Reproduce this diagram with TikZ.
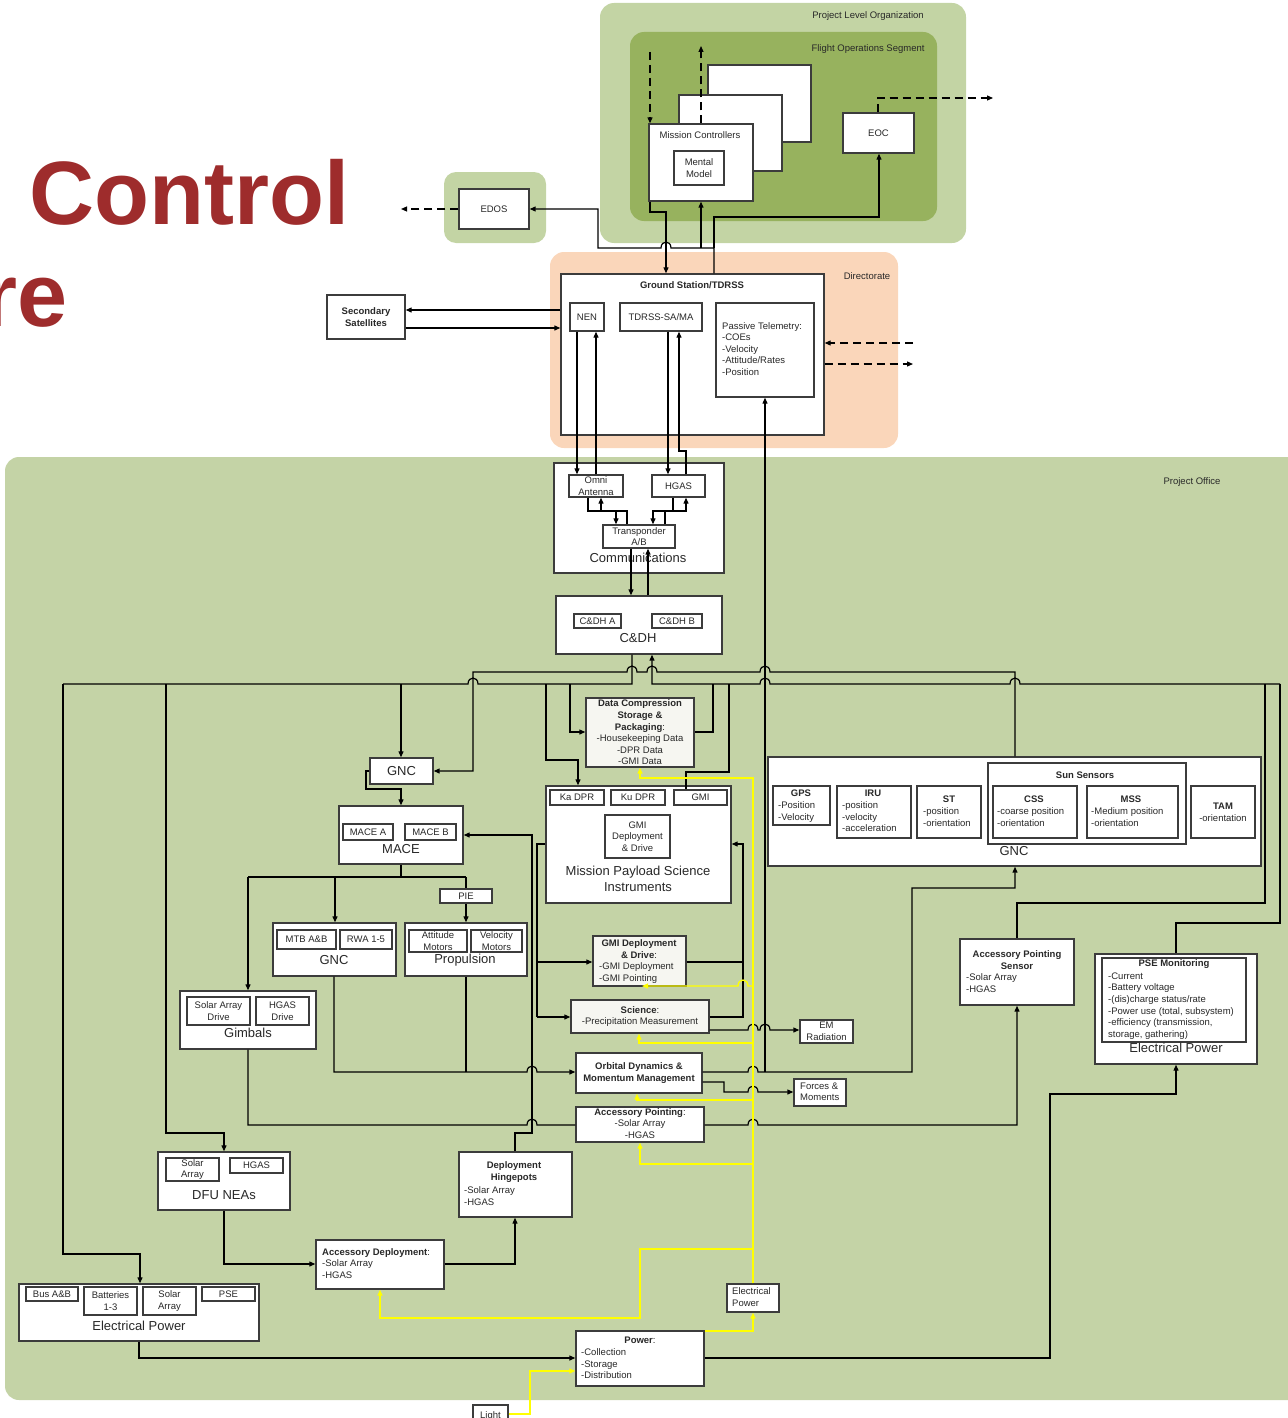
\documentclass[tikz,border=0pt]{standalone}
\usepackage{fontspec}
\setmainfont{Liberation Sans}
\usetikzlibrary{arrows.meta}
\definecolor{plo}{RGB}{195,212,164}
\definecolor{fos}{RGB}{151,178,94}
\definecolor{dirc}{RGB}{250,214,186}
\definecolor{poc}{RGB}{196,211,166}
\definecolor{ctl}{RGB}{158,44,44}
\definecolor{lgf}{RGB}{246,246,241}
\definecolor{bord}{RGB}{60,60,60}
\definecolor{txt}{RGB}{40,40,40}
\definecolor{yel}{RGB}{255,255,0}
\newcommand\myst{\fontsize{9.5}{11.6}\selectfont}
\newcommand\mybt{\fontsize{13}{16}\selectfont}
\tikzset{
  bx/.style={draw=bord, line width=1.4pt, fill=white, inner sep=0pt},
  gbx/.style={bx, fill=lgf},
  t/.style={inner sep=0pt, font=\myst, text=txt},
  tc/.style={t, align=center},
  tl/.style={t, align=left, anchor=north west},
  big/.style={inner sep=0pt, font=\mybt, text=txt, align=center},
  ln/.style={line width=1.2pt, draw=black},
  ar/.style={ln, -{Triangle[length=6pt,width=5pt]}},
  dsh/.style={ln, dash pattern=on 8pt off 5pt, -{Triangle[length=6pt,width=5pt]}},
  yl/.style={line width=1.3pt, draw=yel},
  yar/.style={yl, -{Triangle[length=6pt,width=5pt]}},
  hopr/.style args={#1/#2}{insert path={-- ({#1-5},#2) .. controls ({#1-5},{#2-8}) and ({#1+5},{#2-8}) .. ({#1+5},#2)}},
  hopl/.style args={#1/#2}{insert path={-- ({#1+5},#2) .. controls ({#1+5},{#2-8}) and ({#1-5},{#2-8}) .. ({#1-5},#2)}},
}
\begin{document}
\begin{tikzpicture}[x=1pt,y=-1pt]
\useasboundingbox (0,0) rectangle (1287,1418);
% regions
\fill[plo, rounded corners=14pt] (600,3) rectangle (966,243);
\fill[fos, rounded corners=14pt] (630,32) rectangle (937,221);
\fill[plo, rounded corners=12pt] (444,172) rectangle (546,243);
\fill[dirc, rounded corners=14pt] (550,252) rectangle (898,448);
\fill[poc, rounded corners=14pt] (5,457) rectangle (1310,1400);
% title text
\node[anchor=base west, inner sep=0pt, font=\fontsize{90}{100}\selectfont\bfseries, text=ctl] (ctrl) at (29,224) {Control};
\node[anchor=base east, inner sep=0pt, font=\fontsize{90}{100}\selectfont\bfseries, text=ctl] (retxt) at (68,326) {re};
% region labels
\node[t] (plol) at (868,16) {Project Level Organization};
\node[t] (fosl) at (868,49) {Flight Operations Segment};
\node[t] (dirl) at (867,276) {Directorate};
\node[t] (pol) at (1192,482) {Project Office};
% top boxes
\node[bx, minimum width=103pt, minimum height=77pt] (bk2) at (759.5,103.5) {};
\node[bx, minimum width=103pt, minimum height=76pt] (bk1) at (730.5,133) {};
\node[bx, minimum width=104pt, minimum height=77pt] (mc) at (701,162.5) {};
\node[t] (mcl) at (700,135) {Mission Controllers};
\node[bx, tc, minimum width=50pt, minimum height=34pt] (mm) at (699,168) {Mental\\Model};
\node[bx, t, minimum width=71pt, minimum height=40pt] (eoc) at (878.5,133) {EOC};
\node[bx, t, minimum width=70pt, minimum height=40pt] (edos) at (494,209) {EDOS};
\node[bx, minimum width=263pt, minimum height=161pt] (gs) at (692.5,354.5) {};
\node[t, font=\myst\bfseries] (gsl) at (692,285) {Ground Station/TDRSS};
\node[bx, t, minimum width=34pt, minimum height=28pt] (nen) at (587,317) {NEN};
\node[bx, t, minimum width=82pt, minimum height=28pt] (tdrss) at (661,317) {TDRSS-SA/MA};
\node[bx, minimum width=98pt, minimum height=94pt] (pt) at (765,350) {};
\node[tl] (ptl) at (722,322) {Passive Telemetry:\\-COEs\\-Velocity\\-Attitude/Rates\\-Position};
\node[bx, tc, font=\myst\bfseries, minimum width=78pt, minimum height=44pt] (sec) at (366,317) {Secondary\\Satellites};
% communications
\node[bx, minimum width=170pt, minimum height=110pt] (comm) at (639,518) {};
\node[bx, tc, minimum width=54pt, minimum height=22pt] (omni) at (596,486) {Omni\\Antenna};
\node[bx, t, minimum width=53pt, minimum height=22pt] (hgas) at (678.5,486) {HGAS};
\node[bx, tc, minimum width=72pt, minimum height=23pt] (trans) at (639,536.5) {Transponder\\A/B};
\node[big] (comml) at (638,558) {Communications};
% C&DH
\node[bx, minimum width=166pt, minimum height=58pt] (cdh) at (639,625) {};
\node[bx, t, minimum width=47pt, minimum height=14pt] (cdha) at (597.5,621) {C\&DH A};
\node[bx, t, minimum width=50pt, minimum height=14pt] (cdhb) at (677,621) {C\&DH B};
\node[big] (cdhl) at (638,638) {C\&DH};
% data compression
\node[gbx, tc, minimum width=108pt, minimum height=69pt] (dc) at (640,732.5) {\textbf{Data Compression}\\\textbf{Storage \&}\\\textbf{Packaging}:\\-Housekeeping Data\\-DPR Data\\-GMI Data};
% MPSI
\node[bx, minimum width=185pt, minimum height=117pt] (mpsi) at (638.5,844.5) {};
\node[bx, t, minimum width=54pt, minimum height=15pt] (ka) at (577,797.5) {Ka DPR};
\node[bx, t, minimum width=54pt, minimum height=15pt] (ku) at (638,797.5) {Ku DPR};
\node[bx, t, minimum width=53pt, minimum height=15pt] (gmi) at (700.5,797.5) {GMI};
\node[bx, tc, minimum width=65pt, minimum height=43pt] (gmidd) at (637.5,836.5) {GMI\\Deployment\\\& Drive};
\node[big] (mpsil) at (638,879) {Mission Payload Science\\Instruments};
% GNC big
\node[bx, minimum width=493pt, minimum height=109pt] (gncb) at (1014.5,811.5) {};
\node[bx, minimum width=198pt, minimum height=81pt] (sun) at (1087,803.5) {};
\node[t, font=\myst\bfseries] (sunl) at (1085,775) {Sun Sensors};
\node[bx, minimum width=57pt, minimum height=39pt] (gps) at (801.5,805.5) {};
\node[t, font=\myst\bfseries] (gpst) at (801,793) {GPS};
\node[tl] (gpsl) at (778,801.5) {-Position\\-Velocity};
\node[bx, minimum width=74pt, minimum height=52pt] (iru) at (874,812) {};
\node[t, font=\myst\bfseries] (irut) at (873,793) {IRU};
\node[tl] (irul) at (842,801.5) {-position\\-velocity\\-acceleration};
\node[bx, minimum width=64pt, minimum height=52pt] (st) at (949,812) {};
\node[t, font=\myst\bfseries] (stt) at (949,799) {ST};
\node[tl] (stl) at (923,807.5) {-position\\-orientation};
\node[bx, minimum width=84pt, minimum height=52pt] (css) at (1035,812) {};
\node[t, font=\myst\bfseries] (csst) at (1034,799) {CSS};
\node[tl] (cssl) at (997,807.5) {-coarse position\\-orientation};
\node[bx, minimum width=91pt, minimum height=52pt] (mss) at (1132.5,812) {};
\node[t, font=\myst\bfseries] (msst) at (1131,799) {MSS};
\node[tl] (mssl) at (1091,807.5) {-Medium position\\-orientation};
\node[bx, tc, minimum width=64pt, minimum height=52pt] (tam) at (1223,812) {\textbf{TAM}\\-orientation};
\node[big] (gncbl) at (1014,851) {GNC};
% left middle
\node[bx, big, minimum width=63pt, minimum height=26pt] (gncs) at (401.5,771) {GNC};
\node[bx, minimum width=124pt, minimum height=58pt] (mace) at (401,835) {};
\node[bx, t, minimum width=50pt, minimum height=16pt] (macea) at (368,832) {MACE A};
\node[bx, t, minimum width=51pt, minimum height=16pt] (maceb) at (430.5,832) {MACE B};
\node[big] (macel) at (401,849) {MACE};
\node[bx, t, minimum width=52pt, minimum height=14pt] (pie) at (466,896) {PIE};
\node[bx, minimum width=123pt, minimum height=53pt] (gnc2) at (334.5,949.5) {};
\node[bx, t, minimum width=59pt, minimum height=19pt] (mtb) at (306.5,939.5) {MTB A\&B};
\node[bx, t, minimum width=52pt, minimum height=19pt] (rwa) at (366,939.5) {RWA 1-5};
\node[big] (gnc2l) at (334,960) {GNC};
\node[bx, minimum width=122pt, minimum height=53pt] (prop) at (466,949.5) {};
\node[bx, tc, minimum width=58pt, minimum height=22pt] (att) at (438,941) {Attitude\\Motors};
\node[bx, tc, minimum width=51pt, minimum height=22pt] (vel) at (496.5,941) {Velocity\\Motors};
\node[big] (propl) at (465,960) {Propulsion};
\node[bx, minimum width=136pt, minimum height=58pt] (gimb) at (248,1020) {};
\node[bx, tc, minimum width=63pt, minimum height=28pt] (sad) at (218.5,1011) {Solar Array\\Drive};
\node[bx, tc, minimum width=53pt, minimum height=28pt] (hgd) at (282.5,1011) {HGAS\\Drive};
\node[big] (gimbl) at (248,1033) {Gimbals};
% middle column
\node[gbx, minimum width=93pt, minimum height=50pt] (gmid) at (639.5,961) {};
\node[tc] (gmidt) at (639,949) {\textbf{GMI Deployment}\\\textbf{\& Drive}:};
\node[tl] (gmidl) at (599,962.5) {-GMI Deployment\\-GMI Pointing};
\node[gbx, tc, minimum width=138pt, minimum height=33pt] (sci) at (640,1016.5) {\textbf{Science}:\\-Precipitation Measurement};
\node[bx, tc, minimum width=53pt, minimum height=23pt] (em) at (826.5,1031.5) {EM\\Radiation};
\node[bx, tc, font=\myst\bfseries, minimum width=126pt, minimum height=40pt] (od) at (639,1073) {Orbital Dynamics \&\\Momentum Management};
\node[bx, minimum width=52pt, minimum height=27pt] (fm) at (820,1092.5) {};
\node[tl] (fml) at (800,1082.5) {Forces \&\\Moments};
\node[bx, minimum width=128pt, minimum height=35pt] (ap) at (640,1124.5) {};
\node[tc] (apl) at (640,1123.5) {\textbf{Accessory Pointing}:\\-Solar Array\\-HGAS};
% right side
\node[bx, minimum width=114pt, minimum height=66pt] (aps) at (1017,972) {};
\node[tc, font=\myst\bfseries] (apst) at (1017,960) {Accessory Pointing\\Sensor};
\node[tl] (apsl) at (966,973.5) {-Solar Array\\-HGAS};
\node[bx, minimum width=162pt, minimum height=110pt] (pse) at (1176,1009) {};
\node[bx, minimum width=144pt, minimum height=84pt] (psem) at (1174,1000) {};
\node[t, font=\myst\bfseries] (psemt) at (1174,964) {PSE Monitoring};
\node[tl] (pseml) at (1108,972.5) {-Current\\-Battery voltage\\-(dis)charge status/rate\\-Power use (total, subsystem)\\-efficiency (transmission,\\storage, gathering)};
\node[big] (psel) at (1176,1048) {Electrical Power};
% bottom
\node[bx, minimum width=132pt, minimum height=58pt] (dfu) at (224,1181) {};
\node[bx, tc, minimum width=53pt, minimum height=23pt] (dfusa) at (192.5,1169.5) {Solar\\Array};
\node[bx, t, minimum width=53pt, minimum height=15pt] (dfuhg) at (256.5,1165.5) {HGAS};
\node[big] (dful) at (224,1195) {DFU NEAs};
\node[bx, minimum width=113pt, minimum height=65pt] (dh) at (515.5,1184.5) {};
\node[tc, font=\myst\bfseries] (dht) at (514,1172) {Deployment\\Hingepots};
\node[tl] (dhl) at (464,1186.5) {-Solar Array\\-HGAS};
\node[bx, minimum width=128pt, minimum height=49pt] (ad) at (380,1264.5) {};
\node[tl] (adl) at (322,1248) {\textbf{Accessory Deployment}:\\-Solar Array\\-HGAS};
\node[bx, minimum width=240pt, minimum height=57pt] (ep) at (139,1312.5) {};
\node[bx, t, minimum width=52pt, minimum height=14pt] (bus) at (52,1294) {Bus A\&B};
\node[bx, tc, minimum width=53pt, minimum height=28pt] (bat) at (110.5,1301) {Batteries\\1-3};
\node[bx, tc, minimum width=53pt, minimum height=28pt] (epsa) at (169.5,1301) {Solar\\Array};
\node[bx, t, minimum width=53pt, minimum height=14pt] (psebx) at (228.5,1294) {PSE};
\node[big] (epl) at (139,1326) {Electrical Power};
\node[bx, minimum width=52pt, minimum height=28pt] (epw) at (753,1298) {};
\node[tl] (epwl) at (732,1287.5) {Electrical\\Power};
\node[bx, minimum width=128pt, minimum height=55pt] (pow) at (640,1358.5) {};
\node[t] (powt) at (640,1340) {\textbf{Power}:};
\node[tl] (powl) at (581,1348.5) {-Collection\\-Storage\\-Distribution};
\node[bx, t, minimum width=35pt, minimum height=22pt] (light) at (490.5,1416) {Light};
% free ends
\coordinate (d1) at (650,52);
\coordinate (d2) at (701,46);
\coordinate (d3) at (993,98);
\coordinate (d4) at (401,209);
\coordinate (d5) at (913,343);
\coordinate (d6) at (913,364);
% dashed connectors
\draw[dsh] (d1) -- (650,0 |- mc.north);
\draw[dsh] (701,0 |- mc.north) -- (d2);
\draw[dsh] (878,0 |- eoc.north) -- (878,98) -- (d3);
\draw[dsh] (edos.west) -- (d4);
\draw[dsh] (d5) -- (gs.east |- 0,343);
\draw[dsh] (gs.east |- 0,364) -- (d6);
% top connectors
\draw[ar] (650,0 |- mc.south) -- (650,212) -- (666,212) -- (666,0 |- gs.north);
\draw[ar] (714,0 |- gs.north) -- (714,248) [hopl=666/248] -- (598,248) -- (598,209) -- (edos.east);
\draw[ar] (701,248) -- (701,0 |- mc.south);
\draw[ar] (714,248) -- (714,217) -- (879,217) -- (879,0 |- eoc.south);
\draw[ar] (gs.west |- 0,310) -- (sec.east |- 0,310);
\draw[ar] (sec.east |- 0,328) -- (gs.west |- 0,328);
\draw[ar] (577,0 |- nen.south) -- (577,0 |- omni.north);
\draw[ar] (596,0 |- omni.north) -- (596,0 |- nen.south);
\draw[ar] (668,0 |- tdrss.south) -- (668,0 |- hgas.north);
\draw[ar] (686,0 |- hgas.north) -- (686,451) -- (679,451) -- (679,0 |- tdrss.south);
\draw[ar] (765,1072) -- (pt.south);
% comms internal
\draw[ar] (588,0 |- omni.south) -- (588,511) -- (616,511) -- (616,0 |- trans.north);
\draw[ar] (627,0 |- trans.north) -- (627,511) -- (601,511) -- (601,0 |- omni.south);
\draw[ar] (673,0 |- hgas.south) -- (673,511) -- (653,511) -- (653,0 |- trans.north);
\draw[ar] (665,0 |- trans.north) -- (665,511) -- (686,511) -- (686,0 |- hgas.south);
\draw[ar] (631,0 |- trans.south) -- (631,0 |- cdh.north);
\draw[ar] (648,0 |- cdh.north) -- (648,0 |- trans.south);
% left bus
\draw[ln] (632,0 |- cdh.south) -- (632,684) [hopl=473/684] -- (63,684);
\draw[ar] (63,684) -- (63,1254) -- (140,1254) -- (140,0 |- ep.north);
\draw[ar] (166,684) -- (166,1133) -- (224,1133) -- (dfu.north);
\draw[ar] (401,684) -- (401,0 |- gncs.north);
\draw[ar] (546,684) -- (546,760) -- (578,760) -- (578,0 |- mpsi.north);
\draw[ar] (570,684) -- (570,732) -- (dc.west |- 0,732);
% right bus
\draw[ar] (1280,684) [hopl=1015/684] [hopl=765/684] -- (652,684) -- (652,0 |- cdh.south);
\draw[ln] (1280,684) -- (1280,923) -- (1176,923) -- (1176,0 |- pse.north);
\draw[ln] (1265,684) -- (1265,903) -- (1017,903) -- (1017,0 |- aps.north);
\draw[ln] (713,684) -- (713,732) -- (dc.east |- 0,732);
\draw[ln] (729,684) -- (729,772) -- (686,772) -- (686,0 |- gmi.north);
% GNC bus
\draw[ar] (1015,0 |- gncb.north) -- (1015,672) [hopl=765/672] [hopl=652/672] [hopl=632/672] -- (473,672) -- (473,771) -- (gncs.east |- 0,771);
% MACE tree
\draw[ar] (gncs.west |- 0,771) -- (366,771) -- (366,789) -- (401,789) -- (401,0 |- mace.north);
\draw[ln] (401,0 |- mace.south) -- (401,877);
\draw[ln] (248,877) -- (466,877);
\draw[ar] (248,877) -- (gimb.north);
\draw[ar] (335,877) -- (335,0 |- gnc2.north);
\draw[ln] (466,877) -- (pie.north);
\draw[ar] (pie.south) -- (prop.north);
\draw[ar] (334,0 |- gnc2.south) -- (334,1072) [hopr=532/1072] -- (od.west |- 0,1072);
\draw[ln] (466,0 |- prop.south) -- (466,1072);
\draw[ln] (gimb.south) -- (248,1125) [hopr=532/1125] -- (ap.west |- 0,1125);
\draw[ar] (ap.east |- 0,1125) [hopr=753/1125] -- (1017,1125) -- (1017,0 |- aps.south);
\draw[ar] (od.east |- 0,1072) [hopr=753/1072] -- (912,1072) -- (912,888) -- (1015,888) -- (1015,0 |- gncb.south);
\draw[ar] (od.east |- 0,1082) -- (724,1082) -- (724,1092) [hopr=753/1092] -- (fm.west |- 0,1092);
\draw[ln] (mpsi.west |- 0,844) -- (537,844) -- (537,1017);
\draw[ar] (537,962) -- (gmid.west |- 0,962);
\draw[ar] (537,1017) -- (sci.west |- 0,1017);
\draw[ln] (gmid.east |- 0,962) -- (743,962);
\draw[ar] (sci.east |- 0,1017) -- (743,1017) -- (743,844) -- (mpsi.east |- 0,844);
\draw[ar] (sci.east |- 0,1030) [hopr=753/1030] [hopr=765/1030] -- (em.west |- 0,1030);
\draw[ar] (515,0 |- dh.north) -- (515,1133) -- (532,1133) -- (532,835) -- (mace.east);
\draw[ar] (dfu.south) -- (224,1264) -- (ad.west |- 0,1264);
\draw[ar] (ad.east |- 0,1264) -- (515,1264) -- (515,0 |- dh.south);
\draw[ar] (139,0 |- ep.south) -- (139,1358) -- (pow.west |- 0,1358);
\draw[ar] (pow.east |- 0,1358) -- (1050,1358) -- (1050,1094) -- (1176,1094) -- (1176,0 |- pse.south);
% yellow power lines
\draw[yar] (753,0 |- epw.north) -- (753,778) -- (640,778) -- (640,0 |- dc.south);
\draw[yar] (753,986) [hopl=743/986] -- (642,986);
\draw[yar] (753,1043) -- (639,1043) -- (639,0 |- sci.south);
\draw[yar] (753,1100) -- (637,1100) -- (637,0 |- od.south);
\draw[yar] (753,1164) -- (640,1164) -- (640,0 |- ap.south);
\draw[yar] (753,1249) -- (640,1249) -- (640,1318) -- (380,1318) -- (380,0 |- ad.south);
\draw[yar] (pow.east |- 0,1331) -- (753,1331) -- (753,0 |- epw.south);
\draw[yar] (light.east |- 0,1414) -- (530,1414) -- (530,1371) -- (pow.west |- 0,1371);
\end{tikzpicture}
\end{document}
